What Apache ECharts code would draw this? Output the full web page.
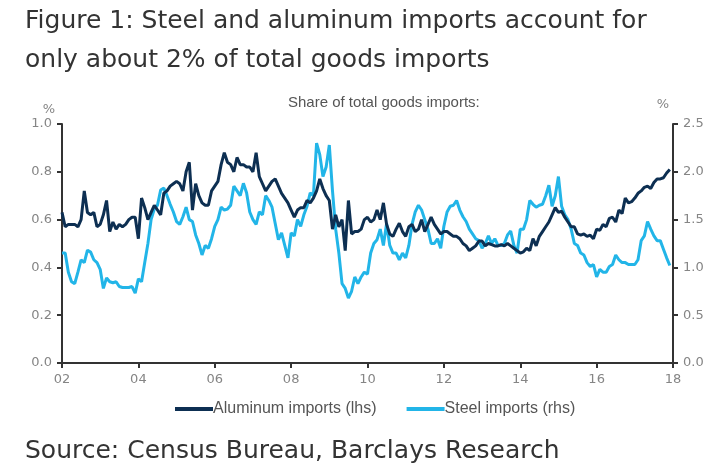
<!DOCTYPE html>
<html lang="en">
<head>
<meta charset="UTF-8">
<title>Steel and aluminum imports</title>
<script src="https://cdn.jsdelivr.net/npm/echarts@6/dist/echarts.min.js"></script>
<style>
  html, body { margin: 0; padding: 0; background: #fff; }
  #main { width: 727px; height: 474px; }
</style>
</head>
<body>
<div id="main"></div>
<script>
    // monthly data, Jan 2002 .. Dec 2017
    var startYear = 2002;

    // share of total goods imports, % (left axis)
    var aluminum = [
        0.63, 0.57, 0.58, 0.58, 0.58, 0.57, 0.60, 0.72, 0.63, 0.62, 0.63, 0.57,
        0.58, 0.62, 0.68, 0.55, 0.59, 0.56, 0.58, 0.57, 0.58, 0.60, 0.61, 0.61,
        0.52, 0.69, 0.65, 0.60, 0.63, 0.66, 0.64, 0.62, 0.71, 0.72, 0.74, 0.75,
        0.76, 0.75, 0.72, 0.80, 0.84, 0.64, 0.75, 0.70, 0.67, 0.66, 0.66, 0.72,
        0.74, 0.76, 0.83, 0.88, 0.84, 0.83, 0.80, 0.86, 0.83, 0.83, 0.82, 0.82,
        0.80, 0.88, 0.78, 0.75, 0.72, 0.74, 0.76, 0.77, 0.74, 0.71, 0.69, 0.67,
        0.64, 0.61, 0.64, 0.65, 0.65, 0.68, 0.67, 0.69, 0.72, 0.77, 0.73, 0.70,
        0.68, 0.56, 0.62, 0.57, 0.60, 0.47, 0.68, 0.54, 0.55, 0.55, 0.56, 0.60,
        0.61, 0.59, 0.60, 0.64, 0.60, 0.67, 0.58, 0.54, 0.53, 0.56, 0.585, 0.55,
        0.53, 0.57, 0.58, 0.55, 0.56, 0.60, 0.55, 0.58, 0.61, 0.58, 0.56, 0.54,
        0.55, 0.55, 0.54, 0.53, 0.53, 0.52, 0.50, 0.49, 0.47, 0.48, 0.49, 0.51,
        0.51, 0.49, 0.50, 0.495, 0.49, 0.49, 0.495, 0.49, 0.50, 0.49, 0.48, 0.47,
        0.46, 0.465, 0.48, 0.47, 0.52, 0.49, 0.53, 0.55, 0.57, 0.59, 0.62, 0.65,
        0.63, 0.635, 0.61, 0.59, 0.57, 0.57, 0.54, 0.535, 0.54, 0.53, 0.535, 0.52,
        0.56, 0.555, 0.58, 0.57, 0.605, 0.61, 0.59, 0.64, 0.625, 0.69, 0.67, 0.675,
        0.69, 0.71, 0.72, 0.735, 0.74, 0.73, 0.755, 0.77, 0.77, 0.775, 0.795, 0.81
    ];

    // share of total goods imports, % (right axis)
    var steel = [
        1.15, 1.15, 0.95, 0.85, 0.83, 0.95, 1.08, 1.05, 1.18, 1.16, 1.08, 1.05,
        0.98, 0.78, 0.89, 0.85, 0.84, 0.85, 0.80, 0.79, 0.79, 0.79, 0.80, 0.73,
        0.88, 0.85, 1.05, 1.25, 1.50, 1.61, 1.65, 1.81, 1.83, 1.75, 1.66, 1.58,
        1.48, 1.45, 1.53, 1.63, 1.50, 1.48, 1.34, 1.25, 1.13, 1.23, 1.20, 1.30,
        1.43, 1.50, 1.63, 1.60, 1.61, 1.65, 1.85, 1.80, 1.75, 1.88, 1.78, 1.58,
        1.50, 1.45, 1.58, 1.55, 1.75, 1.70, 1.63, 1.46, 1.29, 1.36, 1.23, 1.10,
        1.36, 1.33, 1.50, 1.43, 1.55, 1.64, 1.78, 1.75, 2.30, 2.18, 1.95, 2.05,
        2.28, 1.80, 1.40, 1.15, 0.83, 0.78, 0.68, 0.75, 0.90, 0.83, 0.90, 0.95,
        0.93, 1.15, 1.25, 1.29, 1.40, 1.23, 1.46, 1.23, 1.15, 1.15, 1.08, 1.15,
        1.10, 1.23, 1.45, 1.58, 1.65, 1.60, 1.50, 1.40, 1.25, 1.25, 1.30, 1.20,
        1.43, 1.58, 1.64, 1.65, 1.70, 1.60, 1.53, 1.48, 1.40, 1.35, 1.30, 1.28,
        1.20, 1.25, 1.33, 1.25, 1.30, 1.23, 1.23, 1.25, 1.34, 1.38, 1.23, 1.15,
        1.40, 1.40, 1.50, 1.70, 1.66, 1.63, 1.65, 1.66, 1.75, 1.86, 1.64, 1.75,
        1.95, 1.64, 1.55, 1.50, 1.40, 1.25, 1.23, 1.15, 1.13, 1.05, 1.01, 1.03,
        0.90, 0.98, 0.95, 0.95, 1.01, 1.03, 1.13, 1.08, 1.05, 1.05, 1.03, 1.03,
        1.03, 1.08, 1.28, 1.33, 1.48, 1.40, 1.33, 1.28, 1.28, 1.19, 1.10, 1.02
    ];

    var seriesNames = ['Aluminum imports (lhs)', 'Steel imports (rhs)'];

    function toPoints(arr) {
        return arr.map(function (v, i) { return [startYear + i / 12, v]; });
    }

    var axisGrey = '#858585';
    var labelFont = 'DejaVu Sans';
    var narrowFont = '"Liberation Sans Narrow", "Liberation Sans", sans-serif';

    var myChart = echarts.init(document.getElementById('main'), null, { renderer: 'canvas' });

    var option = {
        animation: false,
        title: [{
            text: 'Figure 1: Steel and aluminum imports account for\nonly about 2% of total goods imports',
            left: 20,
            top: -3,
            textStyle: {
                fontFamily: labelFont,
                fontSize: 25,
                fontWeight: 'normal',
                color: '#333',
                lineHeight: 39
            }
        }, {
            text: 'Share of total goods imports:',
            left: 283,
            top: 90,
            textStyle: {
                fontFamily: narrowFont,
                fontSize: 15,
                fontWeight: 'normal',
                color: '#555'
            }
        }, {
            text: 'Source: Census Bureau, Barclays Research',
            left: 20,
            top: 434,
            textStyle: {
                fontFamily: labelFont,
                fontSize: 25,
                fontWeight: 'normal',
                color: '#333'
            }
        }],
        legend: {
            data: seriesNames,
            top: 396,
            left: 170,
            icon: 'rect',
            itemWidth: 38,
            itemHeight: 4,
            itemGap: 30,
            textStyle: {
                fontFamily: narrowFont,
                fontSize: 16,
                color: '#555',
                padding: [0, 0, 0, -5]
            }
        },
        grid: {
            left: 62,
            right: 54,
            top: 124,
            bottom: 111
        },
        xAxis: {
            type: 'value',
            min: 2002,
            max: 2018,
            interval: 2,
            axisLine: { lineStyle: { color: '#333', width: 2 } },
            axisTick: { show: true, length: 5, lineStyle: { color: '#333', width: 2 } },
            axisLabel: {
                color: axisGrey,
                fontFamily: labelFont,
                fontSize: 13,
                margin: 10,
                formatter: function (v) { return String(v).slice(2); }
            },
            splitLine: { show: false }
        },
        yAxis: [{
            type: 'value',
            min: 0,
            max: 1,
            interval: 0.2,
            name: '%',
            nameLocation: 'end',
            nameGap: 8,
            nameTextStyle: {
                color: axisGrey,
                fontFamily: labelFont,
                fontSize: 13,
                align: 'right',
                padding: [0, 7, 0, 0]
            },
            axisLine: { show: true, lineStyle: { color: '#333', width: 2 } },
            axisTick: { show: true, length: 5, lineStyle: { color: '#333', width: 2 } },
            axisLabel: {
                color: axisGrey,
                fontFamily: labelFont,
                fontSize: 13,
                margin: 10,
                formatter: function (v) { return v.toFixed(1); }
            },
            splitLine: { show: false }
        }, {
            type: 'value',
            min: 0,
            max: 2.5,
            interval: 0.5,
            position: 'right',
            name: '%',
            nameLocation: 'end',
            nameGap: 13,
            nameTextStyle: {
                color: axisGrey,
                fontFamily: labelFont,
                fontSize: 13,
                align: 'right',
                padding: [0, 4, 0, 0]
            },
            axisLine: { show: true, lineStyle: { color: '#333', width: 2 } },
            axisTick: { show: true, length: 5, lineStyle: { color: '#333', width: 2 } },
            axisLabel: {
                color: axisGrey,
                fontFamily: labelFont,
                fontSize: 13,
                margin: 10,
                formatter: function (v) { return v.toFixed(1); }
            },
            splitLine: { show: false }
        }],
        series: [{
            name: seriesNames[0],
            type: 'line',
            yAxisIndex: 0,
            showSymbol: false,
            data: toPoints(aluminum),
            color: '#0d2f52',
            lineStyle: { width: 3, color: '#0d2f52' },
            z: 3
        }, {
            name: seriesNames[1],
            type: 'line',
            yAxisIndex: 1,
            showSymbol: false,
            data: toPoints(steel),
            color: '#22b5e8',
            lineStyle: { width: 3, color: '#22b5e8' },
            z: 2
        }]
    };

    myChart.setOption(option);
</script>
</body>
</html>
